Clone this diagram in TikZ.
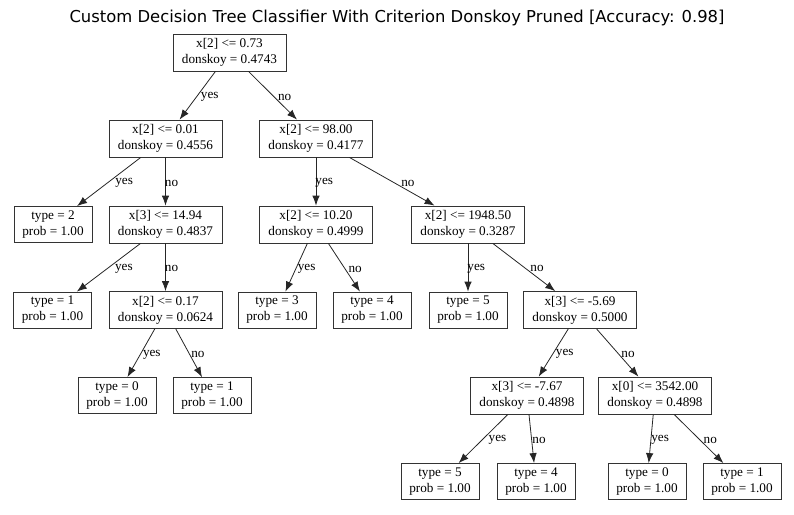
\documentclass[tikz,border=0pt]{standalone}
\usepackage{fontspec}
\setmainfont{Liberation Serif}
\newfontfamily\titlefont{DejaVu Sans}
\usetikzlibrary{arrows.meta}
\begin{document}
\begin{tikzpicture}[x=1pt,y=-1pt,
		box/.style={draw=black!80, line width=0.8pt, align=center, inner sep=0pt, font=\fontsize{13.2}{16}\selectfont},
		dec/.style={box, minimum width=113pt, minimum height=37pt},
		leaf/.style={box, minimum width=78pt, minimum height=36pt},
		edge/.style={draw=black!85, line width=0.8pt, -{Latex[length=10pt,width=7.5pt]}},
		lbl/.style={anchor=west, inner sep=0pt, yshift=-1.5pt, font=\fontsize{13.2}{15}\selectfont}]
			\useasboundingbox (0,0) rectangle (794,514);
			\node[font=\titlefont\fontsize{16.4}{19}\selectfont, anchor=base] (title) at (397,22.5) {Custom Decision Tree Classifier With Criterion Donskoy Pruned [Accuracy: 0.98]};
			% splits
			\node[dec] (n0) at (229.5,52.5) {x[2] <= 0.73\\donskoy = 0.4743};
			\node[dec] (n1) at (165.5,138.5) {x[2] <= 0.01\\donskoy = 0.4556};
			\node[dec] (n2) at (316,138.5) {x[2] <= 98.00\\donskoy = 0.4177};
			\node[dec] (n4) at (165.5,224.5) {x[3] <= 14.94\\donskoy = 0.4837};
			\node[dec] (n5) at (316,224.5) {x[2] <= 10.20\\donskoy = 0.4999};
			\node[dec] (n6) at (468,224.5) {x[2] <= 1948.50\\donskoy = 0.3287};
			\node[dec] (n8) at (165.5,310) {x[2] <= 0.17\\donskoy = 0.0624};
			\node[dec] (n12) at (580,310) {x[3] <= -5.69\\donskoy = 0.5000};
			\node[dec] (n15) at (527,395.5) {x[3] <= -7.67\\donskoy = 0.4898};
			\node[dec] (n16) at (655,395.5) {x[0] <= 3542.00\\donskoy = 0.4898};
			% leaves
			\node[leaf] (n3) at (53,224.5) {type = 2\\prob = 1.00};
			\node[leaf] (n7) at (52.5,310) {type = 1\\prob = 1.00};
			\node[leaf] (n9) at (277,310) {type = 3\\prob = 1.00};
			\node[leaf] (n10) at (372,310) {type = 4\\prob = 1.00};
			\node[leaf] (n11) at (468,310) {type = 5\\prob = 1.00};
			\node[leaf] (n13) at (117,395.5) {type = 0\\prob = 1.00};
			\node[leaf] (n14) at (212,395.5) {type = 1\\prob = 1.00};
			\node[leaf] (n17) at (440,481.5) {type = 5\\prob = 1.00};
			\node[leaf] (n18) at (536,481.5) {type = 4\\prob = 1.00};
			\node[leaf] (n19) at (647,481.5) {type = 0\\prob = 1.00};
			\node[leaf] (n20) at (742,481.5) {type = 1\\prob = 1.00};
			% edges
			\draw[edge] (n0) -- node[lbl, xshift=3pt] {yes} (n1);
			\draw[edge] (n0) -- node[lbl, xshift=5pt] {no} (n2);
			\draw[edge] (n1) -- node[lbl, xshift=6pt] {yes} (n3);
			\draw[edge] (n1) -- node[lbl, xshift=-1pt] {no} (n4);
			\draw[edge] (n2) -- node[lbl, xshift=-1pt] {yes} (n5);
			\draw[edge] (n2) -- node[lbl, xshift=9pt] {no} (n6);
			\draw[edge] (n4) -- node[lbl, xshift=6pt] {yes} (n7);
			\draw[edge] (n4) -- node[lbl, xshift=-1pt] {no} (n8);
			\draw[edge] (n5) -- node[lbl, xshift=1pt] {yes} (n9);
			\draw[edge] (n5) -- node[lbl, xshift=4pt] {no} (n10);
			\draw[edge] (n6) -- node[lbl, xshift=-1pt] {yes} (n11);
			\draw[edge] (n6) -- node[lbl, xshift=6pt] {no} (n12);
			\draw[edge] (n8) -- node[lbl, xshift=1.5pt] {yes} (n13);
			\draw[edge] (n8) -- node[lbl, xshift=2pt] {no} (n14);
			\draw[edge] (n12) -- node[lbl, xshift=2pt] {yes} (n15);
			\draw[edge] (n12) -- node[lbl, xshift=3.5pt] {no} (n16);
			\draw[edge] (n15) -- node[lbl, xshift=5pt] {yes} (n17);
			\draw[edge] (n15) -- node[lbl, xshift=0.5pt] {no} (n18);
			\draw[edge] (n16) -- node[lbl, xshift=0pt] {yes} (n19);
			\draw[edge] (n16) -- node[lbl, xshift=4.5pt] {no} (n20);
		\end{tikzpicture}
\end{document}
